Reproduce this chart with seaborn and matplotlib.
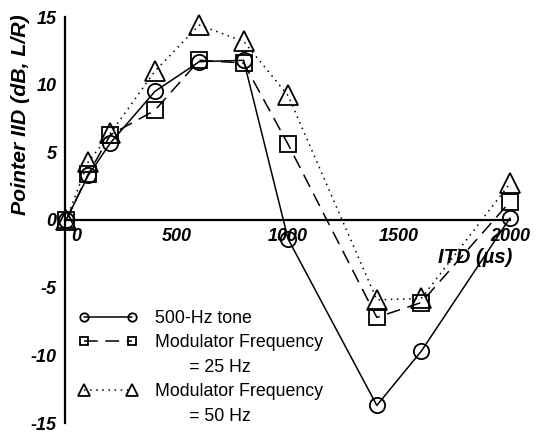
import matplotlib
matplotlib.use("Agg")
import matplotlib.pyplot as plt
import matplotlib.transforms as mtransforms
from matplotlib.lines import Line2D
import seaborn as sns
import pandas as pd

# ---- data ----
itd = [0, 100, 200, 400, 600, 800, 1000, 1400, 1600, 2000]
tone_500hz = [0, 3.3, 5.7, 9.5, 11.7, 11.8, -1.4, -13.7, -9.7, 0.15]
mod_25hz = [0, 3.4, 6.3, 8.1, 11.8, 11.6, 5.6, -7.2, -6.1, 1.35]
mod_50hz = [0, 4.3, 6.4, 11.0, 14.4, 13.2, 9.2, -5.9, -5.8, 2.7]
series_labels = ["500-Hz tone", "Modulator Frequency", "Modulator Frequency"]
series_sublabels = ["", "       = 25 Hz", "       = 50 Hz"]
xticks = [0, 500, 1000, 1500, 2000]
yticks = [-15, -10, -5, 0, 5, 10, 15]
ytick_labels = ["-15", "-10", "-5", "0", "5", "10", "15"]

sns.set_theme(style="white")
plt.rcParams["font.family"] = ["Liberation Sans", "DejaVu Sans"]

fig = plt.figure(figsize=(5.38, 4.37), dpi=100)
ax = fig.add_axes([65 / 538, 1 - 423 / 437, (510 - 65) / 538, (423 - 17) / 437])

df = pd.DataFrame({"itd": itd, "tone": tone_500hz, "m25": mod_25hz, "m50": mod_50hz})

common = dict(color="black", lw=1.1, markerfacecolor="none", markeredgecolor="black",
              markeredgewidth=1.3, clip_on=False)
sns.lineplot(data=df, x="itd", y="tone", ax=ax, marker="o", markersize=11,
             linestyle="-", label=series_labels[0], **common)
sns.lineplot(data=df, x="itd", y="m25", ax=ax, marker="s", markersize=11,
             linestyle=(0, (9, 5)), label=series_labels[1], **common)
sns.lineplot(data=df, x="itd", y="m50", ax=ax, marker="^", markersize=15,
             linestyle=(0, (1, 3)), label=series_labels[2], **common)

ax.set_xlim(-5, 2000)
ax.set_ylim(-15, 15)
ax.spines["top"].set_visible(False)
ax.spines["right"].set_visible(False)
ax.spines["bottom"].set_position(("data", 0))
for s in ("left", "bottom"):
    ax.spines[s].set_color("black")
    ax.spines[s].set_linewidth(1.6)

ax.set_xticks(xticks)
ax.set_xticklabels([str(t) for t in xticks])
ax.set_yticks(yticks)
ax.set_yticklabels(ytick_labels)
ax.tick_params(axis="x", direction="in", length=5, width=1.3, pad=6, colors="black",
               labelsize=13)
ax.tick_params(axis="y", direction="out", length=4, width=1.3, pad=2, colors="black",
               labelsize=13)
for lab in ax.get_xticklabels() + ax.get_yticklabels():
    lab.set_fontweight("bold")
    lab.set_fontstyle("italic")
xl0 = ax.get_xticklabels()[0]
xl0.set_transform(xl0.get_transform() + mtransforms.ScaledTranslation(10 / 100, 0, fig.dpi_scale_trans))

ax.set_xlabel("")
ax.set_ylabel("Pointer IID (dB, L/R)", fontsize=15.3, fontweight="bold", fontstyle="italic",
              color="black")
ax.yaxis.set_label_coords(-0.078, 0.76)
ax.text(1842, -2.8, "ITD (\u00b5s)", fontsize=14.5, fontweight="bold", fontstyle="italic",
        ha="center", va="center", color="black")

# legend: continuation rows get invisible handles so markers align with first text line
h, l = ax.get_legend_handles_labels()
blank = Line2D([], [], linestyle="none", marker=None)
handles = [h[0], h[1], blank, h[2], blank]
labels = [series_labels[0], series_labels[1], series_sublabels[1],
          series_labels[2], series_sublabels[2]]
leg = ax.legend(handles, labels, loc="upper left", bbox_to_anchor=(79 / 538, 1 - 310 / 437),
                bbox_transform=fig.transFigure, frameon=False, numpoints=2,
                handlelength=3.27, markerscale=0.55, fontsize=12.8, borderpad=0,
                borderaxespad=0, labelspacing=0.42, handletextpad=1.03)
for t in leg.get_texts():
    t.set_color("black")

fig.savefig("out.png", dpi=100, facecolor="white")
